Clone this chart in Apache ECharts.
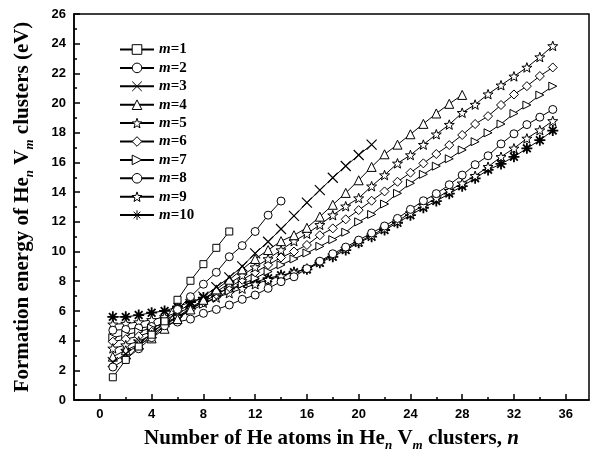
<!DOCTYPE html>
<html>
<head>
<meta charset="utf-8">
<script src="https://cdn.jsdelivr.net/npm/echarts@6/dist/echarts.min.js"></script>
<style>
  html, body { margin: 0; padding: 0; background: #fff; }
  #main { width: 593px; height: 460px; }
</style>
</head>
<body>
<div id="main"></div>
<script>
// formation energy (eV) vs number of He atoms n, one list per vacancy count m
const m1 = [1.53, 2.7, 3.6, 4.4, 5.3, 6.75, 8.03, 9.15, 10.25, 11.35];
const m2 = [2.22, 2.75, 3.45, 4.2, 5.0, 6.1, 6.96, 7.8, 8.6, 9.65, 10.4, 11.35, 12.45, 13.4];
const m3 = [2.55, 3.1, 3.75, 4.5, 5.25, 5.97, 6.45, 6.96, 7.6, 8.26, 9.0, 9.88, 10.66, 11.52,
  12.4, 13.29, 14.14, 14.97, 15.76, 16.5, 17.2];
const m4 = [2.92, 3.35, 3.75, 4.15, 4.8, 5.45, 6.1, 6.75, 7.45, 8.1, 8.8, 9.5, 10.1, 10.7,
  11.1, 11.6, 12.35, 13.15, 13.95, 14.8, 15.7, 16.55, 17.2, 17.9, 18.6, 19.3, 19.95, 20.55];
const m5 = [3.48, 3.7, 3.95, 4.4, 5.0, 5.6, 6.2, 6.75, 7.3, 7.85, 8.4, 8.95, 9.5, 10.1, 10.7,
  11.2, 11.8, 12.45, 13.05, 13.6, 14.4, 15.15, 15.94, 16.5, 17.2, 17.9, 18.55, 19.35, 19.9,
  20.6, 21.2, 21.8, 22.4, 23.1, 23.85];
const m6 = [3.93, 4.1, 4.3, 4.6, 5.1, 5.6, 6.1, 6.6, 7.1, 7.6, 8.1, 8.6, 9.1, 9.6, 10.0,
  10.44, 11.1, 11.56, 12.17, 12.79, 13.42, 14.05, 14.7, 15.31, 15.94, 16.57, 17.17, 17.85,
  18.59, 19.12, 19.87, 20.58, 21.14, 21.82, 22.4];
const m7 = [4.2, 4.4, 4.6, 4.85, 5.2, 5.6, 6.0, 6.45, 6.9, 7.35, 7.8, 8.2, 8.65, 9.1, 9.5,
  9.9, 10.35, 10.8, 11.3, 12.0, 12.5, 13.2, 13.92, 14.6, 15.2, 15.75, 16.25, 16.84, 17.4,
  18.0, 18.59, 19.3, 19.87, 20.54, 21.14];
const m8 = [4.7, 4.75, 4.85, 4.95, 5.1, 5.25, 5.45, 5.84, 6.1, 6.4, 6.78, 7.07, 7.52, 7.97,
  8.3, 8.85, 9.35, 9.85, 10.3, 10.77, 11.25, 11.72, 12.23, 12.84, 13.42, 13.9, 14.5, 15.15,
  15.85, 16.45, 17.25, 17.93, 18.55, 19.05, 19.57];
const m9 = [5.1, 5.15, 5.25, 5.4, 5.6, 5.9, 6.2, 6.55, 6.9, 7.2, 7.5, 7.8, 8.1, 8.35, 8.6,
  8.85, 9.3, 9.75, 10.2, 10.65, 11.1, 11.55, 12.05, 12.6, 13.1, 13.6, 14.1, 14.6, 15.1,
  15.71, 16.38, 16.95, 17.62, 18.18, 18.8];
const m10 = [5.6, 5.6, 5.72, 5.88, 6.0, 6.28, 6.6, 6.9, 7.18, 7.5, 7.75, 7.95, 8.2, 8.4,
  8.6, 8.8, 9.25, 9.65, 10.1, 10.6, 11.0, 11.45, 11.94, 12.45, 12.95, 13.4, 13.9, 14.4,
  14.93, 15.5, 15.9, 16.38, 16.95, 17.5, 18.15];

const names = ['m=1', 'm=2', 'm=3', 'm=4', 'm=5', 'm=6', 'm=7', 'm=8', 'm=9', 'm=10'];
const values = [m1, m2, m3, m4, m5, m6, m7, m8, m9, m10];

const xMajor = [0, 4, 8, 12, 16, 20, 24, 28, 32, 36];
const xMinor = [2, 6, 10, 14, 18, 22, 26, 30, 34];

// marker shapes
const STAR = 'path://M5,0L6.2,3.4L9.8,3.5L7,5.7L8,9.2L5,7.2L2,9.2L3,5.7L0.2,3.5L3.8,3.4Z';
const CROSS = 'path://M0,0L10,10M10,0L0,10';
const RTRI = 'path://M0,0L10,5L0,10Z';
const ASTER = 'path://M5,0L5,10M0,5L10,5M1.5,1.5L8.5,8.5M8.5,1.5L1.5,8.5';

const marks = [
  { symbol: 'rect', size: 7, fill: '#fff', bw: 1 },
  { symbol: 'circle', size: 8, fill: '#fff', bw: 1 },
  { symbol: CROSS, size: 10, fill: 'none', bw: 1.2 },
  { symbol: 'triangle', size: 9, fill: '#fff', bw: 1 },
  { symbol: STAR, size: 10, fill: '#fff', bw: 1 },
  { symbol: 'diamond', size: 9, fill: '#fff', bw: 1 },
  { symbol: RTRI, size: 8, fill: '#fff', bw: 1 },
  { symbol: 'circle', size: 8, fill: '#fff', bw: 1 },
  { symbol: STAR, size: 10, fill: '#fff', bw: 1 },
  { symbol: ASTER, size: 11, fill: '#000', bw: 1.8 }
];

const serif = '"Liberation Serif", "Times New Roman", serif';
const sans = '"Liberation Sans", Arial, sans-serif';

const chart = echarts.init(document.getElementById('main'), null, { renderer: 'canvas' });

const series = values.map(function (vals, i) {
  return {
    name: names[i],
    type: 'line',
    xAxisIndex: 0,
    data: vals.map(function (v, k) { return [k + 1, v]; }),
    symbol: marks[i].symbol,
    symbolSize: marks[i].size,
    symbolKeepAspect: true,
    showAllSymbol: true,
    lineStyle: { color: '#000', width: 1 },
    itemStyle: { color: marks[i].fill, borderColor: '#000', borderWidth: marks[i].bw },
    emphasis: { disabled: true },
    z: 2 + (10 - i)
  };
});

const subStyle = { fontFamily: serif, fontWeight: 'bold', fontStyle: 'italic', fontSize: 13, padding: [13, 0, 0, 0] };
const nameStyle = { fontFamily: serif, fontWeight: 'bold', fontSize: 21, color: '#000' };

chart.setOption({
  animation: false,
  backgroundColor: '#fff',
  grid: { left: 74, right: 4, top: 14, bottom: 60, show: true, borderColor: '#000', borderWidth: 1.5 },
  legend: {
    orient: 'vertical',
    left: 114,
    top: 37,
    itemWidth: 34,
    itemHeight: 12,
    itemGap: 3.4,
    data: names,
    itemStyle: { color: '#fff', borderColor: '#000', borderWidth: 1 },
    formatter: function (name) { return '{i|m}{t|' + name.slice(1) + '}'; },
    textStyle: {
      color: '#000',
      rich: {
        i: { fontFamily: serif, fontStyle: 'italic', fontWeight: 'bold', fontSize: 15, color: '#000' },
        t: { fontFamily: serif, fontWeight: 'bold', fontSize: 15, color: '#000' }
      }
    }
  },
  xAxis: [{
    type: 'value',
    min: -2,
    max: 37.8,
    splitLine: { show: false },
    axisLine: { onZero: false, lineStyle: { color: '#000', width: 1.5 } },
    axisTick: { inside: true, length: 6, lineStyle: { color: '#000', width: 1.5 }, customValues: xMajor },
    axisLabel: { customValues: xMajor, color: '#000', fontFamily: sans, fontWeight: 'bold', fontSize: 13, margin: 8 },
    name: '{b|Number of He atoms in He}{s|n}{b| V}{s|m}{b| clusters, }{bi|n}',
    nameLocation: 'middle',
    nameGap: 26,
    nameTextStyle: {
      rich: {
        b: nameStyle,
        bi: Object.assign({}, nameStyle, { fontStyle: 'italic' }),
        s: subStyle
      }
    }
  }, {
    type: 'value',
    min: -2,
    max: 37.8,
    position: 'bottom',
    splitLine: { show: false },
    axisLine: { show: false },
    axisLabel: { show: false },
    axisTick: { inside: true, length: 3, lineStyle: { color: '#000', width: 1.5 }, customValues: xMinor }
  }],
  yAxis: {
    type: 'value',
    min: 0,
    max: 26,
    interval: 2,
    splitLine: { show: false },
    axisLine: { show: true, onZero: false, lineStyle: { color: '#000', width: 1.5 } },
    axisTick: { show: true, inside: true, length: 6, lineStyle: { color: '#000', width: 1.5 } },
    minorTick: { show: true, splitNumber: 2, length: 3, lineStyle: { color: '#000', width: 1.5 } },
    axisLabel: { color: '#000', fontFamily: sans, fontWeight: 'bold', fontSize: 13, margin: 8 },
    name: '{b|Formation energy of He}{s|n}{b| V}{s|m}{b| clusters (eV)}',
    nameLocation: 'middle',
    nameGap: 38,
    nameTextStyle: {
      rich: { b: nameStyle, s: subStyle }
    }
  },
  series: series
});
</script>
</body>
</html>
